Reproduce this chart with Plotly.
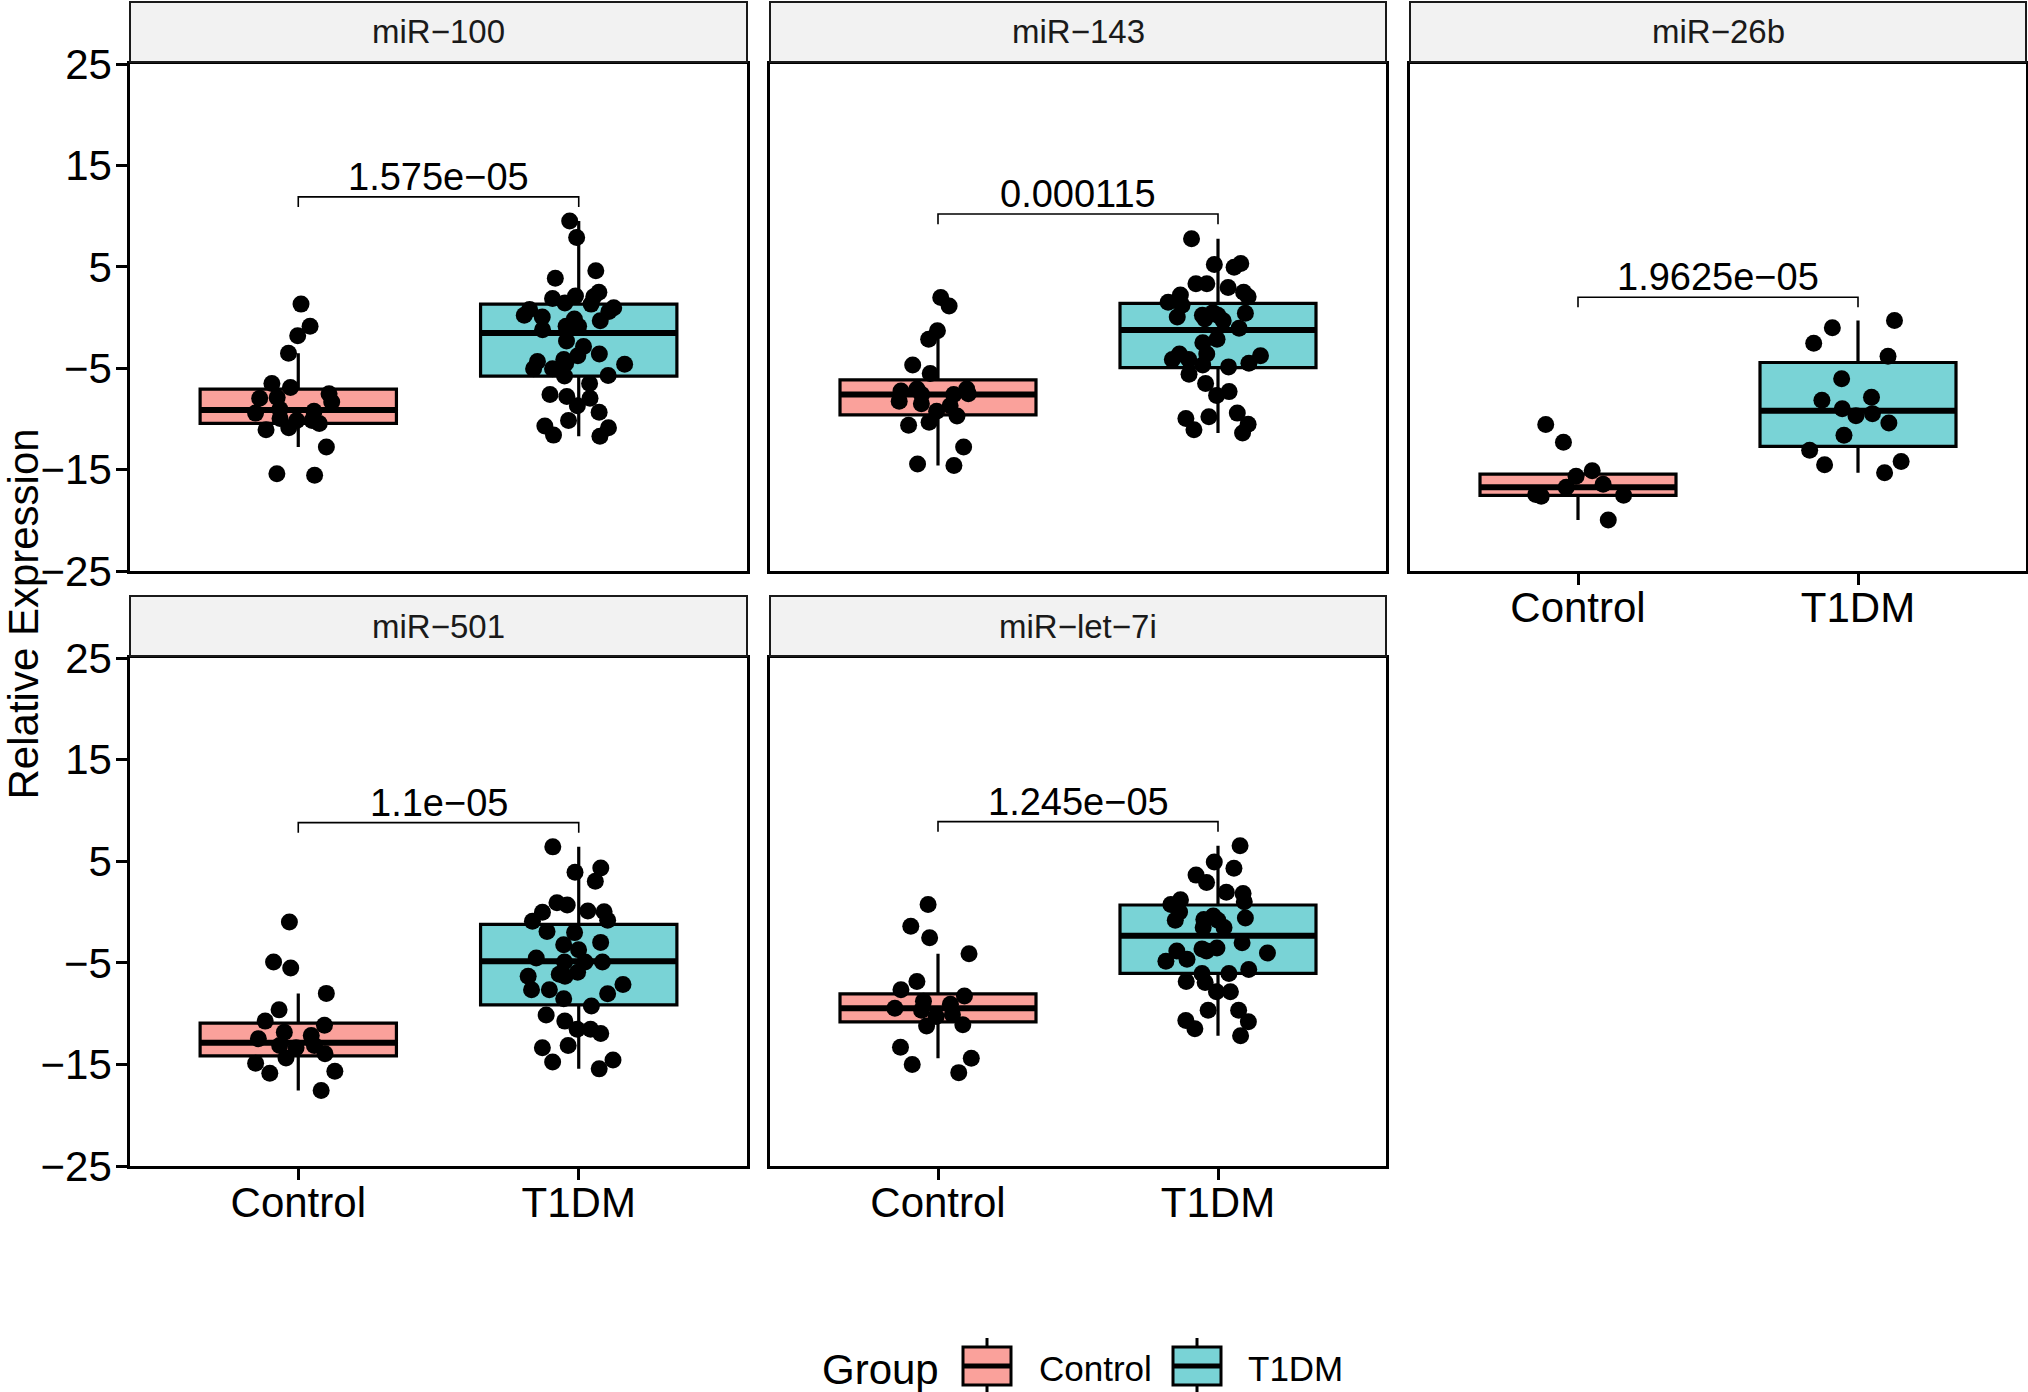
import plotly.graph_objects as go

# ---------------- data ----------------
genes = ["miR−100", "miR−143", "miR−26b", "miR−501", "miR−let−7i"]
groups = ["Control", "T1DM"]
y_ticks = [-25, -15, -5, 5, 15, 25]

ctrl_mir100 = [1.32, -0.87, -1.8, -3.52, -6.51, -6.9, -7.53, -7.97, -7.90, -8.33, -9.06,
               -9.43, -9.97, -10.15, -10.45, -9.24, -10.15, -11.07, -10.88, -12.78, -15.4, -15.55]
t1dm_mir100 = [9.52, 7.88, 4.60, 3.87, 2.49, 2.05, 2.12, 1.87, 0.96, 1.43, 1.32, 0.59, 0.23,
               -0.14, -0.32, 0.05, -0.87, -0.87, -2.32, -2.87, -3.6, -3.78, -4.51, -4.14, -4.6,
               -4.33, -5.05, -5.05, -5.71, -5.78, -6.51, -7.79, -7.6, -7.97, -8.7, -9.35, -10.15,
               -10.7, -10.88, -11.6, -11.7, 0.8, -1.2]

ctrl_mir143 = [1.14, 1.98, -1.3, -2.14, -4.69, -5.53, -7.06, -7.24, -7.6, -7.6, -7.06, -7.53,
               -8.26, -8.51, -8.7, -9.24, -9.72, -10.63, -10.34, -12.78, -14.45, -14.6]
t1dm_mir143 = [7.77, 5.33, 4.96, 5.22, 3.32, 3.32, 2.96, 2.23, 2.49, 2.05, 1.5, 1.21, 0.48,
               0.05, 0.23, 0.41, -0.14, 0.23, -0.32, -1.05, -2.14, -2.5, -3.6, -4.14, -3.78,
               -4.14, -3.6, -4.69, -4.51, -4.87, -5.6, -6.51, -7.31, -7.68, -9.97, -9.79, -9.43,
               -10.52, -11.4, -11.07]

ctrl_mir26b = [-10.56, -12.3, -15.12, -15.65, -16.73, -16.45, -17.54, -17.46, -17.62, -19.96]
t1dm_mir26b = [-0.3, -1.0, -2.54, -3.83, -6.05, -7.86, -8.15, -9.0, -9.48, -9.68, -10.4,
               -11.61, -13.1, -14.19, -14.52, -15.3]

ctrl_mir501 = [-0.98, -4.92, -5.52, -8.01, -9.62, -10.74, -11.14, -11.83, -12.15, -12.47,
               -13.15, -13.35, -13.15, -13.96, -14.88, -14.36, -15.68, -15.88, -17.57]
t1dm_mir501 = [6.41, 4.32, 3.92, 3.03, 0.9, 0.7, -0.02, 0.1, 0.02, -0.82, -0.9, -2.03, -1.91,
               -3.23, -2.99, -3.71, -4.52, -4.92, -4.92, -4.92, -5.92, -6.33, -6.33, -6.12,
               -7.13, -7.65, -7.65, -8.05, -8.53, -9.26, -10.14, -10.74, -11.55, -11.95, -11.55,
               -13.15, -13.35, -14.56, -14.76, -15.44]

ctrl_let7i = [0.73, -1.41, -2.54, -4.11, -6.85, -7.66, -8.27, -8.79, -9.07, -9.48, -10.08,
              -9.68, -10.28, -11.09, -11.21, -13.31, -14.4, -15.0, -15.81]
t1dm_let7i = [6.53, 4.92, 3.63, 4.31, 2.9, 1.94, 1.81, 1.01, 1.21, 0.73, -0.4, 0.0, -0.81,
              -0.6, -0.73, -0.81, -1.53, -1.53, -3.02, -3.83, -4.03, -3.83, -3.63, -3.55,
              -4.64, -4.84, -5.65, -6.05, -6.05, -6.85, -6.94, -7.86, -7.86, -9.68, -9.68,
              -10.81, -10.69, -11.49, -12.18]

control_values = [ctrl_mir100, ctrl_mir143, ctrl_mir26b, ctrl_mir501, ctrl_let7i]
t1dm_values = [t1dm_mir100, t1dm_mir143, t1dm_mir26b, t1dm_mir501, t1dm_let7i]

# box statistics
q1_control = [-10.45, -9.61, -17.54, -14.16, -10.81]
median_control = [-9.13, -7.6, -16.73, -12.87, -9.48]
q3_control = [-7.06, -6.15, -15.44, -10.94, -8.06]
low_control = [-12.78, -14.6, -19.96, -17.57, -14.4]
high_control = [-3.52, -1.3, -15.12, -8.01, -4.11]

q1_t1dm = [-5.78, -4.95, -12.7, -9.14, -6.05]
median_t1dm = [-1.52, -1.23, -9.19, -4.84, -2.34]
q3_t1dm = [1.32, 1.39, -4.44, -1.22, 0.69]
low_t1dm = [-11.7, -11.4, -15.3, -15.44, -12.18]
high_t1dm = [9.52, 7.77, -0.3, 6.41, 6.53]

p_labels = ["1.575e−05", "0.000115", "1.9625e−05", "1.1e−05", "1.245e−05"]
bracket_y = [11.9, 10.2, 2.0, 8.8, 8.9]

# ---------------- style / layout ----------------
W, H = 2028, 1392
FONT = "Liberation Sans, Arial, Helvetica, sans-serif"
fills = ["#FAA19B", "#79D3D6"]
col_px = [(130, 747), (770, 1386), (1410, 2026)]
row_px = [(64, 571), (658, 1166)]
panel_rc = [(0, 0), (0, 1), (0, 2), (1, 0), (1, 1)]
BOX_W = 0.7
JITTER = 0.6
TICK_DROP = 1.0
TICK_FONT = 42


def px_x(v):
    return v / W


def px_y(v):
    return 1 - v / H


fig = go.Figure()
shapes = []
annotations = []
axes = {}

stats = [
    (control_values, q1_control, median_control, q3_control, low_control, high_control),
    (t1dm_values, q1_t1dm, median_t1dm, q3_t1dm, low_t1dm, high_t1dm),
]

for k, gene in enumerate(genes):
    r, c = panel_rc[k]
    sfx = "" if k == 0 else str(k + 1)
    xa, ya = "x" + sfx, "y" + sfx
    xd = [px_x(col_px[c][0]), px_x(col_px[c][1])]
    yd = [px_y(row_px[r][1]), px_y(row_px[r][0])]
    show_x = (r == 1) or (k == 2)
    show_y = (c == 0)

    axes["xaxis" + sfx] = dict(
        domain=xd, anchor=ya, range=[-0.6, 1.6], tickvals=[0, 1], ticktext=groups,
        showticklabels=show_x, ticks="outside" if show_x else "", ticklen=11, tickwidth=2.7,
        tickcolor="black", showline=True, linecolor="black", linewidth=2.5, mirror=True,
        showgrid=False, zeroline=False, automargin=False, ticklabelstandoff=-13,
        tickfont=dict(size=TICK_FONT, color="black", family=FONT), fixedrange=True,
    )
    axes["yaxis" + sfx] = dict(
        domain=yd, anchor=xa, range=[-25, 25], tickvals=y_ticks,
        showticklabels=show_y, ticks="outside" if show_y else "", ticklen=11, tickwidth=2.7,
        tickcolor="black", showline=True, linecolor="black", linewidth=2.5, mirror=True,
        showgrid=False, zeroline=False, automargin=False,
        tickfont=dict(size=TICK_FONT, color="black", family=FONT),
        ticklabelstandoff=-4, fixedrange=True,
    )

    # boxes
    for g, (vals, q1, med, q3, lo, hi) in enumerate(stats):
        fig.add_trace(go.Box(
            x=[g], q1=[q1[k]], median=[med[k]], q3=[q3[k]], lowerfence=[lo[k]],
            upperfence=[hi[k]], orientation="v", width=BOX_W, whiskerwidth=0,
            fillcolor=fills[g], line=dict(color="black", width=3.2), boxpoints=False,
            xaxis=xa, yaxis=ya, showlegend=False, hoverinfo="skip",
        ))
    # thicker median lines
    for g, (vals, q1, med, q3, lo, hi) in enumerate(stats):
        fig.add_trace(go.Box(
            x=[g], q1=[med[k]], median=[med[k]], q3=[med[k]], lowerfence=[med[k]],
            upperfence=[med[k]], orientation="v", width=BOX_W, whiskerwidth=0,
            fillcolor="rgba(0,0,0,0)", line=dict(color="black", width=6), boxpoints=False,
            xaxis=xa, yaxis=ya, showlegend=False, hoverinfo="skip",
        ))
    # jittered points
    for g, (vals, q1, med, q3, lo, hi) in enumerate(stats):
        v = vals[k]
        fig.add_trace(go.Box(
            x=[g] * len(v), y=v, orientation="v", width=BOX_W, boxpoints="all",
            jitter=JITTER, pointpos=0, whiskerwidth=0,
            fillcolor="rgba(0,0,0,0)", line=dict(color="rgba(0,0,0,0)", width=0),
            marker=dict(color="black", size=17, line=dict(width=0)),
            xaxis=xa, yaxis=ya, showlegend=False, hoveron="points",
        ))

    # significance bracket
    b = bracket_y[k]
    fig.add_trace(go.Scatter(
        x=[0, 0, 1, 1], y=[b - TICK_DROP, b, b, b - TICK_DROP], mode="lines",
        line=dict(color="black", width=1.6), xaxis=xa, yaxis=ya, showlegend=False,
        hoverinfo="skip",
    ))
    annotations.append(dict(
        x=0.5, y=b, xref=xa, yref=ya, text=p_labels[k], showarrow=False,
        yanchor="bottom", xanchor="center", yshift=-3,
        font=dict(size=38, color="black", family=FONT),
    ))

    # facet strip
    top = row_px[r][0]
    shapes.append(dict(
        type="rect", xref="paper", yref="paper", x0=xd[0], x1=xd[1],
        y0=px_y(top - 2), y1=px_y(top - 62), fillcolor="#F2F2F2",
        line=dict(color="#1A1A1A", width=2), layer="above",
    ))
    annotations.append(dict(
        x=(xd[0] + xd[1]) / 2, y=px_y(top - 32), xref="paper", yref="paper",
        text=gene, showarrow=False, xanchor="center", yanchor="middle",
        font=dict(size=33, color="#1A1A1A", family=FONT),
    ))

# y-axis title
annotations.append(dict(
    x=0, y=px_y(614), xref="paper", yref="paper", text="Relative Expression",
    textangle=-90, showarrow=False, xanchor="left", yanchor="middle", xshift=-3,
    font=dict(size=42, color="black", family=FONT),
))

# legend (drawn by hand to mimic boxplot keys)
LEG_CY = 1366
annotations.append(dict(
    x=px_x(820), y=px_y(LEG_CY + 3), xref="paper", yref="paper", text="Group",
    showarrow=False, xanchor="left", yanchor="middle",
    font=dict(size=42, color="black", family=FONT),
))
legend_keys = [(963, 1011, 1037), (1173, 1221, 1246)]
for g, (kx0, kx1, tx) in enumerate(legend_keys):
    kc = (kx0 + kx1) / 2
    shapes.append(dict(type="line", xref="paper", yref="paper", x0=px_x(kc), x1=px_x(kc),
                       y0=px_y(LEG_CY - 28), y1=px_y(LEG_CY + 28),
                       line=dict(color="black", width=3)))
    shapes.append(dict(type="rect", xref="paper", yref="paper", x0=px_x(kx0), x1=px_x(kx1),
                       y0=px_y(LEG_CY - 19), y1=px_y(LEG_CY + 19), fillcolor=fills[g],
                       line=dict(color="black", width=3)))
    shapes.append(dict(type="line", xref="paper", yref="paper", x0=px_x(kx0), x1=px_x(kx1),
                       y0=px_y(LEG_CY), y1=px_y(LEG_CY), line=dict(color="black", width=5)))
    annotations.append(dict(
        x=px_x(tx), y=px_y(LEG_CY + 2), xref="paper", yref="paper", text=groups[g],
        showarrow=False, xanchor="left", yanchor="middle",
        font=dict(size=35, color="black", family=FONT),
    ))

fig.update_layout(
    width=W, height=H, margin=dict(l=0, r=0, t=0, b=0, autoexpand=False),
    paper_bgcolor="white", plot_bgcolor="white", boxmode="overlay",
    showlegend=False, shapes=shapes, annotations=annotations,
    font=dict(family=FONT, color="black"), **axes,
)

page_fix = (
    "var gd=document.getElementById('{plot_id}');"
    "gd.style.position='absolute';gd.style.left='0px';gd.style.top='0px';"
    "document.body.style.margin='0px';document.body.style.overflow='hidden';"
)
fig.write_html("out.html", post_script=page_fix, config={"displayModeBar": False})
